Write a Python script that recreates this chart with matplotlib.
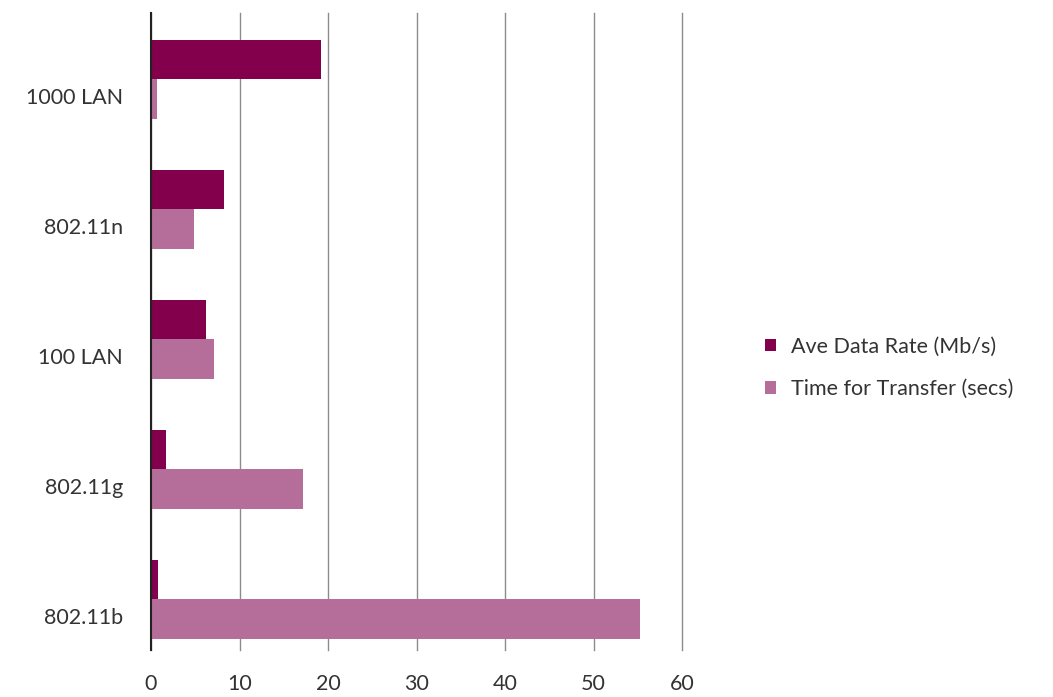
import matplotlib.pyplot as plt
import numpy as np

# categories from bottom to top
networks = ['802.11b', '802.11g', '100 LAN', '802.11n', '1000 LAN']
ave_rate = [0.8, 1.7, 6.2, 8.3, 19.2]
transfer_time = [55.2, 17.2, 7.1, 4.9, 0.7]
series_names = ['Ave Data Rate (Mb/s)', 'Time for Transfer (secs)']
x_ticks = [0, 10, 20, 30, 40, 50, 60]

plt.rcParams['font.family'] = ['Lato', 'DejaVu Sans']

fig = plt.figure(figsize=(10.53, 6.97), dpi=100)
ax = fig.add_axes([0.1434, 0.0674, 0.5043, 0.9139])

y = np.arange(len(networks))
h = 0.305
ax.barh(y + h / 2, ave_rate, height=h, color='#82004C', label=series_names[0], zorder=3)
ax.barh(y - h / 2, transfer_time, height=h, color='#B46E99', label=series_names[1], zorder=3)

ax.set_xlim(0, 60)
ax.set_ylim(-0.39, 4.51)
ax.set_xticks(x_ticks)
# labels sit a bit below the middle of each group, like in excel
ax.set_yticks(y - 0.125)
ax.set_yticklabels(networks)

ax.tick_params(axis='x', length=0, pad=17, labelsize=15.5, labelcolor='#333333')
ax.tick_params(axis='y', length=0, pad=20, labelsize=15.5, labelcolor='#333333')

for s in ['top', 'right', 'bottom']:
    ax.spines[s].set_visible(False)
ax.spines['left'].set_color('#222222')
ax.spines['left'].set_linewidth(1.5)
ax.spines['left'].set_zorder(4)

ax.grid(axis='x', color='#8c8c8c', linewidth=1.0, zorder=0)
ax.grid(axis='y', visible=False)
for line in ax.get_xgridlines():
    line.set_clip_on(False)

leg = ax.legend(loc='center left', bbox_to_anchor=(1.12, 0.443), frameon=False,
                fontsize=15.5, handlelength=0.5, handleheight=0.5, handletextpad=0.7,
                labelspacing=1.05, labelcolor='#333333')

plt.savefig('out.png', dpi=100)
